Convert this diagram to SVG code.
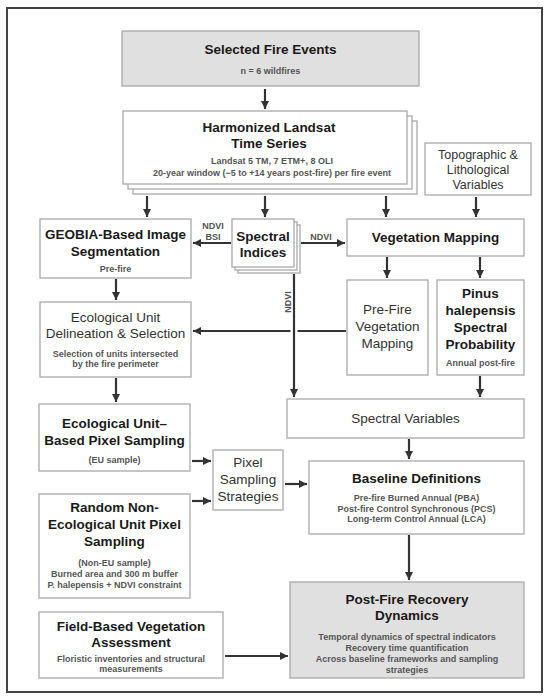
<svg xmlns="http://www.w3.org/2000/svg" width="550" height="700" viewBox="0 0 550 700">
<defs>
<marker id="ah" viewBox="0 0 10 10" refX="10" refY="5" markerWidth="9" markerHeight="8" markerUnits="userSpaceOnUse" orient="auto"><path d="M0,0 L10,5 L0,10 z" fill="#333"/></marker>
<style>
.box{fill:#fff;stroke:#aaa;stroke-width:1.3}
.gbox{fill:#e0e0e0;stroke:#aaa;stroke-width:1.3}
.t{font-family:"Liberation Sans",Arial,sans-serif;font-weight:bold;font-size:13.5px;fill:#1a1a1a;text-anchor:middle}
.r{font-family:"Liberation Sans",Arial,sans-serif;font-size:13.5px;fill:#333;text-anchor:middle}
.s{font-family:"Liberation Sans",Arial,sans-serif;font-weight:bold;font-size:9px;fill:#555;text-anchor:middle}
.c{fill:none;stroke:#333;stroke-width:2.2}
.ca{fill:none;stroke:#333;stroke-width:2.2;marker-end:url(#ah)}
</style>
</defs>
<rect x="0" y="0" width="550" height="700" fill="#fff"/>
<rect x="7" y="8" width="535" height="684" fill="none" stroke="#444" stroke-width="2"/>

<g id="selected-fire-events">
<rect class="gbox" x="122" y="31" width="297" height="55"/>
<text class="t" x="270.5" y="54">Selected Fire Events</text>
<text class="s" x="270.5" y="74">n = 6 wildfires</text>
</g>

<g id="harmonized-landsat">
<rect class="box" x="133" y="121" width="284" height="73"/>
<rect class="box" x="128" y="116" width="284" height="73"/>
<rect class="box" x="123" y="111" width="284" height="73"/>
<text class="t" x="269" y="132">Harmonized Landsat</text>
<text class="t" x="269" y="148">Time Series</text>
<text class="s" x="272" y="164">Landsat 5 TM, 7 ETM+, 8 OLI</text>
<text class="s" x="272" y="176">20-year window (−5 to +14 years post-fire) per fire event</text>
</g>

<g id="topographic">
<rect class="box" x="425" y="143" width="106" height="52"/>
<text class="r" x="478" y="158.5" style="font-size:12.5px">Topographic &amp;</text>
<text class="r" x="478" y="173.5" style="font-size:12.5px">Lithological</text>
<text class="r" x="478" y="188.5" style="font-size:12.5px">Variables</text>
</g>

<g id="geobia">
<rect class="box" x="40" y="219" width="151" height="59"/>
<text class="t" x="115.5" y="239">GEOBIA-Based Image</text>
<text class="t" x="115.5" y="256">Segmentation</text>
<text class="s" x="115.5" y="272">Pre-fire</text>
</g>

<g id="spectral-indices">
<rect class="box" x="238" y="225" width="62" height="48"/>
<rect class="box" x="235" y="222" width="62" height="48"/>
<rect class="box" x="232" y="219" width="62" height="48"/>
<text class="t" x="263" y="241">Spectral</text>
<text class="t" x="263" y="257">Indices</text>
</g>

<g id="vegetation-mapping">
<rect class="box" x="347" y="219" width="177" height="37"/>
<text class="t" x="435.5" y="242">Vegetation Mapping</text>
</g>

<g id="pre-fire-vegetation-mapping">
<rect class="box" x="347" y="280" width="81" height="95"/>
<text class="r" x="387.5" y="314">Pre-Fire</text>
<text class="r" x="387.5" y="331">Vegetation</text>
<text class="r" x="387.5" y="348">Mapping</text>
</g>

<g id="pinus-halepensis">
<rect class="box" x="437" y="280" width="87" height="95"/>
<text class="t" x="480.5" y="298">Pinus</text>
<text class="t" x="480.5" y="315">halepensis</text>
<text class="t" x="480.5" y="332">Spectral</text>
<text class="t" x="480.5" y="349">Probability</text>
<text class="s" x="480.5" y="366">Annual post-fire</text>
</g>

<g id="ecological-unit-delineation">
<rect class="box" x="40" y="302" width="151" height="75"/>
<text class="r" x="115.5" y="322">Ecological Unit</text>
<text class="r" x="115.5" y="338">Delineation &amp; Selection</text>
<text class="s" x="115.5" y="357">Selection of units intersected</text>
<text class="s" x="115.5" y="367">by the fire perimeter</text>
</g>

<g id="spectral-variables">
<rect class="box" x="287" y="399" width="237" height="39"/>
<text class="r" x="405.5" y="423">Spectral Variables</text>
</g>

<g id="eu-sampling">
<rect class="box" x="39" y="404" width="151" height="67"/>
<text class="t" x="114.5" y="428">Ecological Unit–</text>
<text class="t" x="114.5" y="445">Based Pixel Sampling</text>
<text class="s" x="114.5" y="463">(EU sample)</text>
</g>

<g id="pixel-sampling-strategies">
<rect class="box" x="213" y="450" width="70" height="60"/>
<text class="r" x="248" y="467">Pixel</text>
<text class="r" x="248" y="484">Sampling</text>
<text class="r" x="248" y="501">Strategies</text>
</g>

<g id="baseline-definitions">
<rect class="box" x="309" y="461" width="215" height="73"/>
<text class="t" x="416.5" y="483">Baseline Definitions</text>
<text class="s" x="416.5" y="501">Pre-fire Burned Annual (PBA)</text>
<text class="s" x="416.5" y="511.5">Post-fire Control Synchronous (PCS)</text>
<text class="s" x="416.5" y="522">Long-term Control Annual (LCA)</text>
</g>

<g id="random-sampling">
<rect class="box" x="39" y="494" width="151" height="104"/>
<text class="t" x="114.5" y="512">Random Non-</text>
<text class="t" x="114.5" y="529">Ecological Unit Pixel</text>
<text class="t" x="114.5" y="546">Sampling</text>
<text class="s" x="114.5" y="566">(Non-EU sample)</text>
<text class="s" x="114.5" y="577">Burned area and 300 m buffer</text>
<text class="s" x="114.5" y="587.5">P. halepensis + NDVI constraint</text>
</g>

<g id="post-fire-recovery">
<rect class="gbox" x="290" y="582" width="234" height="96"/>
<text class="t" x="407" y="604">Post-Fire Recovery</text>
<text class="t" x="407" y="620">Dynamics</text>
<text class="s" x="407" y="640">Temporal dynamics of spectral indicators</text>
<text class="s" x="407" y="651">Recovery time quantification</text>
<text class="s" x="407" y="662">Across baseline frameworks and sampling</text>
<text class="s" x="407" y="673">strategies</text>
</g>

<g id="field-assessment">
<rect class="box" x="39" y="612" width="184" height="66"/>
<text class="t" x="131" y="631">Field-Based Vegetation</text>
<text class="t" x="131" y="647">Assessment</text>
<text class="s" x="131" y="662">Floristic inventories and structural</text>
<text class="s" x="131" y="672">measurements</text>
</g>

<g id="connectors">
<line class="ca" x1="265" y1="89" x2="265" y2="109"/>
<line class="ca" x1="147" y1="196" x2="147" y2="217"/>
<line class="ca" x1="265" y1="196" x2="265" y2="217"/>
<line class="ca" x1="386" y1="196" x2="386" y2="217"/>
<line class="ca" x1="476" y1="197" x2="476" y2="217"/>
<line class="ca" x1="231" y1="243" x2="193" y2="243"/>
<text class="s" x="213" y="228.5">NDVI</text>
<text class="s" x="213" y="240">BSI</text>
<line class="ca" x1="301" y1="243" x2="345" y2="243"/>
<text class="s" x="321" y="240">NDVI</text>
<line class="ca" x1="387" y1="257" x2="387" y2="278"/>
<line class="ca" x1="480" y1="257" x2="480" y2="278"/>
<line class="ca" x1="116" y1="279" x2="116" y2="300"/>
<line class="c" x1="346" y1="331" x2="297.5" y2="331"/>
<line class="ca" x1="290.5" y1="331" x2="193" y2="331"/>
<line class="ca" x1="294" y1="274" x2="294" y2="397"/>
<text class="s" transform="translate(290.5,302) rotate(-90)">NDVI</text>
<line class="ca" x1="480" y1="376" x2="480" y2="397"/>
<line class="ca" x1="116" y1="378" x2="116" y2="402"/>
<line class="ca" x1="409" y1="439" x2="409" y2="459"/>
<line class="ca" x1="192" y1="461" x2="211" y2="461"/>
<line class="ca" x1="192" y1="501" x2="211" y2="501"/>
<line class="ca" x1="285" y1="484" x2="307" y2="484"/>
<line class="ca" x1="409" y1="535" x2="409" y2="580"/>
<line class="ca" x1="225" y1="656" x2="288" y2="656"/>
</g>
</svg>
